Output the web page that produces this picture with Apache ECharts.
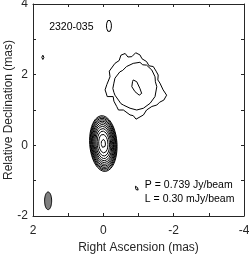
<!DOCTYPE html>
<html><head><meta charset="utf-8">
<script src="https://cdn.jsdelivr.net/npm/echarts/dist/echarts.min.js"></script>
<style>html,body{margin:0;padding:0;background:#fff}#c{width:249px;height:254px}</style>
</head><body><div id="c"></div>
<script>
// ---- tick labels ----
const xTickValues = [2, 1, 0, -1, -2, -3, -4];
const xTickLabels = ['2', '', '0', '', '-2', '', '-4'];
const yTickValues = [4, 3, 2, 1, 0, -1, -2];
const yTickLabels = ['4', '', '2', '', '0', '', '-2'];

// ---- map parameters ----
const peakFlux = 0.739;          // Jy/beam
const lowestLevel = 0.0003;      // Jy/beam
const contourLevels = [0.0003, 0.0006, 0.0012, 0.0024, 0.0048, 0.0096, 0.0192, 0.0384, 0.0768, 0.1536, 0.3072, 0.6144];

// core component (mas): centre RA, centre Dec, sigma RA, sigma Dec, tilt (deg)
const coreCenter = [0.0, 0.05];
const coreSigma = [0.098, 0.2];
const coreTilt = -4;

const jetOuter = [[-0.05,1.57],[-0.10,1.72],[-0.19,1.94],[-0.17,2.10],[-0.33,2.32],[-0.45,2.40],[-0.50,2.55],[-0.62,2.60],[-0.70,2.50],[-0.81,2.51],[-0.92,2.62],[-1.04,2.56],[-1.10,2.45],[-1.23,2.37],[-1.30,2.25],[-1.42,2.23],[-1.50,2.10],[-1.56,1.99],[-1.55,1.85],[-1.61,1.76],[-1.70,1.57],[-1.80,1.42],[-1.72,1.28],[-1.60,1.22],[-1.52,1.14],[-1.38,1.10],[-1.23,1.00],[-1.14,0.86],[-0.93,0.74],[-0.85,0.84],[-0.76,0.86],[-0.57,1.00],[-0.43,1.00],[-0.38,1.10],[-0.33,1.14],[-0.30,1.25],[-0.28,1.38],[-0.11,1.38],[-0.08,1.48]];
const jetMiddle = [[-0.27,1.61],[-0.30,1.76],[-0.33,1.90],[-0.47,2.08],[-0.55,2.12],[-0.66,2.23],[-0.85,2.32],[-1.04,2.35],[-1.12,2.28],[-1.23,2.27],[-1.38,2.13],[-1.47,1.94],[-1.48,1.80],[-1.52,1.66],[-1.47,1.38],[-1.33,1.19],[-1.14,1.05],[-0.95,1.00],[-0.76,1.05],[-0.57,1.14],[-0.50,1.18],[-0.43,1.28],[-0.33,1.42],[-0.30,1.50]];
const jetInner = [[-0.85,1.85],[-0.95,1.80],[-1.04,1.61],[-1.09,1.47],[-1.02,1.42],[-0.90,1.52],[-0.81,1.66],[-0.83,1.80]];

// small isolated features: RA, Dec, semi-axis RA, semi-axis Dec, tilt (deg)
const smallBlobs = [[-0.16, 3.38, 0.07, 0.17, 0], [1.72, 2.49, 0.03, 0.06, 0], [-0.95, -1.22, 0.03, 0.08, -20]];

// restoring beam: RA, Dec, semi-axis RA, semi-axis Dec, tilt
const beam = [1.57, -1.57, 0.10, 0.25, 0];

// annotations
const sourceName = '2320-035';
const peakText = 'P = 0.739 Jy/beam';
const lowText = 'L = 0.30 mJy/beam';

// ---- helpers ----
function ellipsePts(cx, cy, a, b, tiltDeg, n) {
  const th = tiltDeg * Math.PI / 180, pts = [];
  for (let i = 0; i <= n; i++) {
    const t = 2 * Math.PI * i / n;
    const u = a * Math.cos(t), v = b * Math.sin(t);
    pts.push([cx + u * Math.cos(th) - v * Math.sin(th), cy + u * Math.sin(th) + v * Math.cos(th)]);
  }
  return pts;
}
function closed(arr) { return arr.concat([arr[0]]); }

const txtColor = '#262626';
const fontFam = '"Liberation Sans", Arial, Helvetica, sans-serif';

const series = [];
function lineSeries(data, w) {
  series.push({ type: 'line', data: data, showSymbol: false, symbol: 'none', smooth: false, silent: true,
    lineStyle: { color: '#000', width: w }, xAxisIndex: 0, yAxisIndex: 0, animation: false, clip: true });
}
// core contours from Gaussian component
contourLevels.forEach(l => {
  if (l >= peakFlux) return;
  const k = Math.sqrt(2 * Math.log(peakFlux / l));
  lineSeries(ellipsePts(coreCenter[0], coreCenter[1], coreSigma[0] * k, coreSigma[1] * k, coreTilt, 90), 1);
});
lineSeries(closed(jetOuter), 1);
lineSeries(closed(jetMiddle), 1);
lineSeries(closed(jetInner), 1);
smallBlobs.forEach(b => lineSeries(ellipsePts(b[0], b[1], b[2], b[3], b[4], 40), 1));

// beam
series.push({ type: 'custom', xAxisIndex: 0, yAxisIndex: 0, silent: true, animation: false,
  data: [[beam[0], beam[1]]],
  renderItem: function (params, api) {
    const pts = ellipsePts(beam[0], beam[1], beam[2], beam[3], beam[4], 60).map(p => api.coord(p));
    return { type: 'polygon', shape: { points: pts }, style: { fill: '#7f7f7f', stroke: '#000', lineWidth: 1 } };
  }
});

// annotations
const notes = [[1.54, 3.36, sourceName], [-1.18, -1.115, peakText], [-1.18, -1.53, lowText]];
series.push({ type: 'custom', xAxisIndex: 0, yAxisIndex: 0, silent: true, animation: false,
  data: notes.map(n => [n[0], n[1]]),
  renderItem: function (params, api) {
    const p = api.coord([api.value(0), api.value(1)]);
    return { type: 'text', x: p[0], y: p[1],
      style: { text: notes[params.dataIndex][2], fill: '#000', font: '10.5px ' + fontFam,
        textAlign: 'left', textVerticalAlign: 'middle', align: 'left', verticalAlign: 'middle' } };
  }
});

function lab(values, labels) { return v => { const i = values.indexOf(v); return i >= 0 ? labels[i] : ''; }; }

const axisCommon = {
  type: 'value', interval: 1,
  axisLine: { show: true, onZero: false, lineStyle: { color: txtColor, width: 1 } },
  axisTick: { show: true, inside: true, length: 3, lineStyle: { color: txtColor, width: 1 } },
  splitLine: { show: false }
};

const option = {
  animation: false,
  backgroundColor: '#fff',
  grid: { left: 33, right: 5, top: 4, bottom: 38, containLabel: false, outerBoundsMode: 'none' },
  xAxis: [
    Object.assign({}, axisCommon, { min: -4, max: 2, inverse: true, position: 'bottom',
      axisLabel: { formatter: lab(xTickValues, xTickLabels), fontSize: 12, color: txtColor, fontFamily: fontFam, margin: 9 },
      name: 'Right Ascension (mas)', nameLocation: 'middle', nameGap: 26, nameMoveOverlap: false,
      nameTextStyle: { fontSize: 12, color: txtColor, fontFamily: fontFam } }),
    Object.assign({}, axisCommon, { min: -4, max: 2, inverse: true, position: 'top', axisLabel: { show: false } })
  ],
  yAxis: [
    Object.assign({}, axisCommon, { min: -2, max: 4, position: 'left',
      axisLabel: { formatter: lab(yTickValues, yTickLabels), fontSize: 12, color: txtColor, fontFamily: fontFam, margin: 5 },
      name: 'Relative Declination (mas)', nameLocation: 'middle', nameGap: 18, nameMoveOverlap: false,
      nameTextStyle: { fontSize: 12, color: txtColor, fontFamily: fontFam } }),
    Object.assign({}, axisCommon, { min: -2, max: 4, position: 'right', axisLabel: { show: false } })
  ],
  series: series
};

const chart = echarts.init(document.getElementById('c'), null, { renderer: 'canvas' });
chart.setOption(option);
</script>
</body></html>
